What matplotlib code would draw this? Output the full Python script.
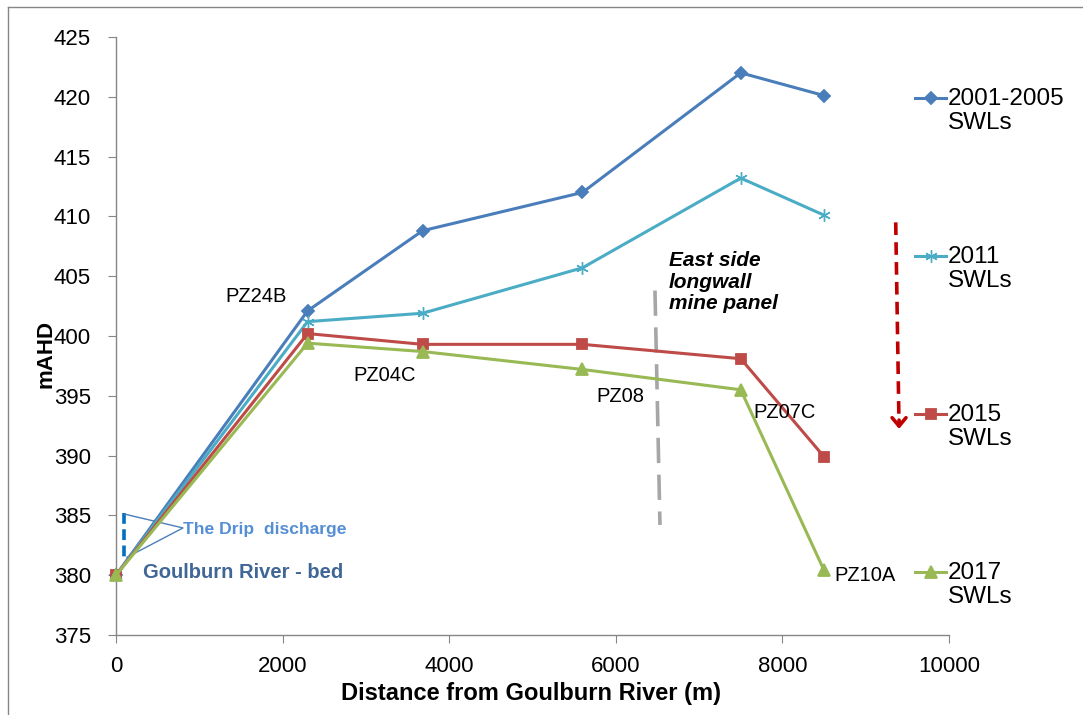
import matplotlib.pyplot as plt
import numpy as np
from matplotlib.legend_handler import HandlerLine2D
from matplotlib.lines import Line2D

# data
distance = [0, 2300, 3680, 5600, 7500, 8500]
swl_2001_2005 = [380.0, 402.1, 408.8, 412.0, 422.0, 420.1]
swl_2011 = [380.0, 401.2, 401.9, 405.7, 413.2, 410.1]
swl_2015 = [380.0, 400.2, 399.3, 399.3, 398.1, 389.9]
swl_2017 = [380.0, 399.4, 398.7, 397.2, 395.5, 380.4]

series_labels = ['2001-2005\nSWLs', '2011\nSWLs', '2015\nSWLs', '2017\nSWLs']
series_colors = ['#4A7EBB', '#4BACC6', '#BE4B48', '#98B954']

# piezometer labels: (text, x, y)
pz_labels = [('PZ24B', 1680, 403.3), ('PZ04C', 3230, 396.7), ('PZ08', 6060, 394.9),
             ('PZ07C', 8030, 393.6)]
pz10a = ('PZ10A', 8620, 380.0)

panel_x = [6470, 6530]
panel_y = [403.8, 384.2]
arrow_x = [9360, 9400]
arrow_y = [409.5, 392.0]
drip_x = [96, 96]
drip_y = [385.2, 381.3]

plt.rcParams['font.family'] = ['Liberation Sans', 'DejaVu Sans']

fig = plt.figure(figsize=(10.83, 7.15), dpi=100)
ax = fig.add_axes([0.1071, 0.1119, 0.7692, 0.8364])

markers = ['D', (6, 2, 0), 's', '^']
msizes = [6.5, 9, 7.5, 8.5]
all_series = [swl_2001_2005, swl_2011, swl_2015, swl_2017]
handles = []
for vals, lab, col, mk, ms in zip(all_series, series_labels, series_colors, markers, msizes):
    h, = ax.plot(distance, vals, color=col, lw=2.2, marker=mk, ms=ms,
                 markeredgecolor=col, markerfacecolor=col, mew=1.3 if mk != markers[1] else 1.0,
                 label=lab, clip_on=False, zorder=3)
    handles.append(h)

ax.set_xlim(0, 10000)
ax.set_ylim(375, 425)
ax.set_xticks(np.arange(0, 10001, 2000))
ax.set_yticks(np.arange(375, 426, 5))

for s in ['top', 'right']:
    ax.spines[s].set_visible(False)
for s in ['left', 'bottom']:
    ax.spines[s].set_color('#868686')
    ax.spines[s].set_linewidth(1.0)
ax.tick_params(axis='both', direction='out', length=6, color='#868686', labelsize=16)
ax.tick_params(axis='y', pad=12)
ax.tick_params(axis='x', pad=9)

ax.set_xlabel('Distance from Goulburn River (m)', fontsize=17, fontweight='bold')
ax.set_ylabel('mAHD', fontsize=16, fontweight='bold')
ax.xaxis.set_label_coords(0.498, -0.078)
ax.yaxis.set_label_coords(-0.072, 0.47)

for txt, x, y in pz_labels:
    ax.text(x, y, txt, fontsize=14.5, ha='center', va='center')
ax.text(pz10a[1], pz10a[2], pz10a[0], fontsize=14.5, ha='left', va='center')

ax.text(6640, 404.5, 'East side\nlongwall\nmine panel', fontsize=15, fontweight='bold',
        fontstyle='italic', ha='left', va='center', linespacing=1.15)
ax.plot(panel_x, panel_y, color='#A6A6A6', lw=2.6, ls=(0, (7, 3.2)), zorder=2)

# red dashed arrow
ax.plot(arrow_x, [arrow_y[0], arrow_y[1] + 0.4], color='#C00000', lw=2.6,
        ls=(0, (3.5, 2)), zorder=2)
ax.annotate('', xy=(arrow_x[1], arrow_y[1]), xytext=(arrow_x[1], arrow_y[1] + 1.2),
            arrowprops=dict(arrowstyle='->,head_length=0.6,head_width=0.5',
                            color='#C00000', lw=2.6))

# The Drip discharge callout
ax.plot(drip_x, drip_y, color='#0070C0', lw=2.6, ls=(0, (3, 1.5)), clip_on=False, zorder=2)
ax.plot([108, 804, 132], [385.1, 383.95, 381.5], color='#4A7EBB', lw=1.0, zorder=2)
ax.text(810, 383.8, 'The Drip  discharge', fontsize=12.6, fontweight='bold',
        color='#558ED5', ha='left', va='center')
ax.text(324, 380.2, 'Goulburn River - bed', fontsize=14.5, fontweight='bold',
        color='#3F6696', ha='left', va='center')


class TopHandler(HandlerLine2D):
    def create_artists(self, legend, orig_handle, xdescent, ydescent, width, height,
                       fontsize, trans):
        return super().create_artists(legend, orig_handle, xdescent, ydescent - 1.05 * fontsize,
                                      width, height, fontsize, trans)


leg = fig.legend(handles=handles, loc='upper left', bbox_to_anchor=(893 / 1083, 1 - 66 / 715),
                 frameon=False, fontsize=17.5, handlelength=1.3, handletextpad=0.06,
                 labelspacing=4.62, handler_map={Line2D: TopHandler()})
for t in leg.get_texts():
    t.set_linespacing(1.1)

# outer chart border
fig.add_artist(Line2D([8 / 1083, 8 / 1083], [0, 1 - 7 / 715], color='#868686', lw=1.0,
                      transform=fig.transFigure))
fig.add_artist(Line2D([8 / 1083, 1], [1 - 7 / 715, 1 - 7 / 715], color='#868686', lw=1.0,
                      transform=fig.transFigure))

fig.savefig('out.png', dpi=100)
